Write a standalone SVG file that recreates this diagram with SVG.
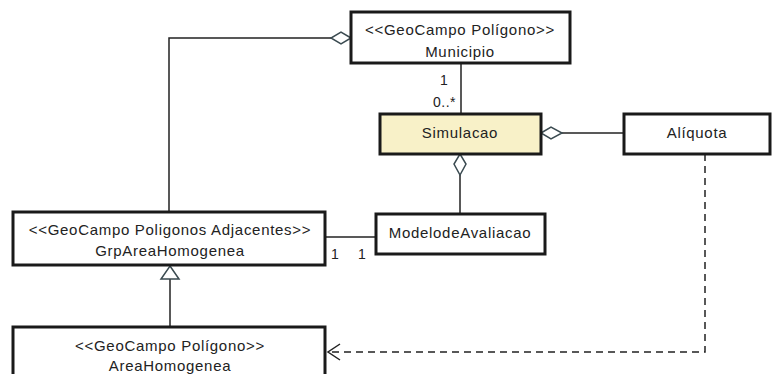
<svg xmlns="http://www.w3.org/2000/svg" width="773" height="374" viewBox="0 0 773 374">
  <style>
    .box { fill: #ffffff; stroke: #1a1a1a; stroke-width: 3; }
    .active { fill: #f8f1c8; }
    .lbl { font-family: "Liberation Sans", Arial, sans-serif; font-size: 15px; letter-spacing: 0.7px; fill: #222; text-anchor: middle; }
    .mult { font-family: "Liberation Sans", Arial, sans-serif; font-size: 14px; letter-spacing: 0.5px; fill: #222; }
    .edge { fill: none; stroke: #222; stroke-width: 1.5; }
    .dash { fill: none; stroke: #222; stroke-width: 1.5; stroke-dasharray: 7 5; }
    .agg { fill: #ffffff; stroke: #3a4a50; stroke-width: 1.5; }
  </style>

  <g id="connectors">
    <!-- Municipio 1 — 0..* Simulacao -->
    <line class="edge" x1="461" y1="63" x2="461" y2="114"/>
    <!-- Municipio aggregates GrpAreaHomogenea -->
    <polyline class="edge" points="331,38 169,38 169,212"/>
    <polygon class="agg" points="351,38 341,32 331,38 341,44"/>
    <!-- Simulacao aggregates Alíquota -->
    <line class="edge" x1="562" y1="133" x2="624" y2="133"/>
    <polygon class="agg" points="541,133 551,127 562,133 551,139"/>
    <!-- Simulacao aggregates ModelodeAvaliacao -->
    <line class="edge" x1="460" y1="175" x2="460" y2="214"/>
    <polygon class="agg" points="460,154 466,164 460,175 454,164"/>
    <!-- GrpAreaHomogenea 1 — 1 ModelodeAvaliacao -->
    <line class="edge" x1="325" y1="237" x2="376" y2="237"/>
    <!-- AreaHomogenea generalizes to GrpAreaHomogenea -->
    <line class="edge" x1="170" y1="279" x2="170" y2="327"/>
    <polygon class="agg" points="170,266 179,279 161,279"/>
    <!-- Alíquota depends on AreaHomogenea -->
    <polyline class="dash" points="705,154 705,352 330,352"/>
    <polyline class="edge" points="340,344 328,352 340,360"/>
    <text class="mult" x="440" y="85">1</text>
    <text class="mult" x="433" y="107">0..*</text>
    <text class="mult" x="331" y="259">1</text>
    <text class="mult" x="358" y="259">1</text>
  </g>

  <g id="municipio">
    <rect class="box" x="351" y="12" width="219" height="51"/>
    <text class="lbl" x="460" y="35">&lt;&lt;GeoCampo Polígono&gt;&gt;</text>
    <text class="lbl" x="460" y="57">Municipio</text>
  </g>

  <g id="simulacao">
    <rect class="box active" x="380" y="114" width="161" height="40"/>
    <text class="lbl" x="460" y="138">Simulacao</text>
  </g>

  <g id="aliquota">
    <rect class="box" x="624" y="114" width="146" height="40"/>
    <text class="lbl" x="697" y="138">Alíquota</text>
  </g>

  <g id="modelo-avaliacao">
    <rect class="box" x="376" y="214" width="169" height="40"/>
    <text class="lbl" x="460" y="238">ModelodeAvaliacao</text>
  </g>

  <g id="grp-area-homogenea">
    <rect class="box" x="13" y="212" width="312" height="53"/>
    <text class="lbl" x="170" y="235">&lt;&lt;GeoCampo Poligonos Adjacentes&gt;&gt;</text>
    <text class="lbl" x="170" y="256">GrpAreaHomogenea</text>
  </g>

  <g id="area-homogenea">
    <rect class="box" x="13" y="327" width="312" height="60"/>
    <text class="lbl" x="170" y="351">&lt;&lt;GeoCampo Polígono&gt;&gt;</text>
    <text class="lbl" x="170" y="371">AreaHomogenea</text>
  </g>
</svg>
